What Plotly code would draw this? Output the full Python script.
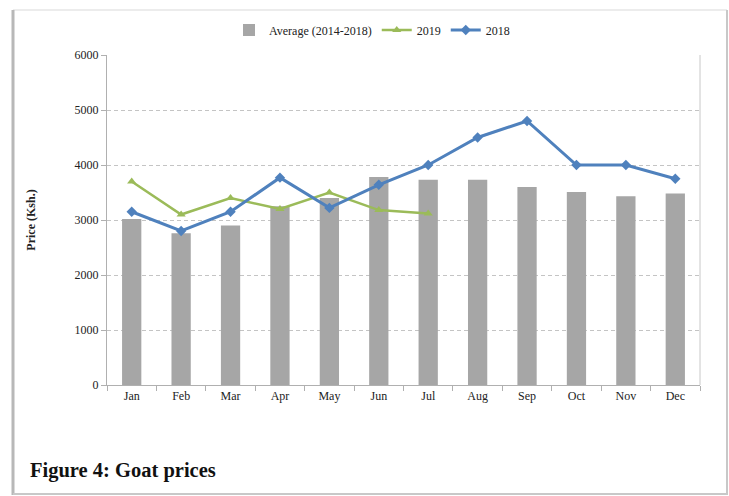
import plotly.graph_objects as go

months = ["Jan", "Feb", "Mar", "Apr", "May", "Jun", "Jul", "Aug", "Sep", "Oct", "Nov", "Dec"]
avg_2014_2018 = [3020, 2760, 2900, 3250, 3400, 3780, 3730, 3730, 3600, 3510, 3430, 3480]
prices_2019 = [3700, 3100, 3400, 3200, 3500, 3180, 3120]
prices_2018 = [3150, 2800, 3150, 3770, 3220, 3640, 4000, 4500, 4800, 4000, 4000, 3750]

W, H = 729, 496
L, R, T, B = 107, 29, 55, 111
pw, ph = W - L - R, H - T - B

def px(x):
    return (x - L) / pw

def py(y):
    return (H - B - y) / ph

serif = "Liberation Serif, Times New Roman, serif"

fig = go.Figure()
fig.add_trace(go.Bar(
    x=months, y=avg_2014_2018, name="Average (2014-2018)",
    marker=dict(color="#a6a6a6", line=dict(width=0)), width=0.39,
))
fig.add_trace(go.Scatter(
    x=months[:len(prices_2019)], y=prices_2019, name="2019", mode="lines+markers",
    line=dict(color="#9bbb59", width=2.5),
    marker=dict(symbol="triangle-up", size=8, color="#9bbb59"),
))
fig.add_trace(go.Scatter(
    x=months, y=prices_2018, name="2018", mode="lines+markers",
    line=dict(color="#4f81bd", width=3),
    marker=dict(symbol="diamond", size=8, color="#4f81bd"),
))

fig.update_layout(
    width=W, height=H,
    margin=dict(l=L, r=R, t=T, b=B, pad=0),
    paper_bgcolor="white", plot_bgcolor="white",
    font=dict(family=serif, size=12, color="#222"),
    showlegend=True,
    legend=dict(orientation="h", x=px(372), xanchor="center", y=py(30), yanchor="middle",
                font=dict(family=serif, size=12, color="#222"), itemwidth=30,
                bgcolor="rgba(0,0,0,0)"),
    bargap=0.6,
    xaxis=dict(
        type="category", range=[-0.5, 11.5],
        showline=True, linecolor="#b0b0b0", linewidth=1,
        ticks="outside", tickson="boundaries", ticklen=5, tickcolor="#b0b0b0",
        showgrid=False, tickfont=dict(family=serif, size=12, color="#222"),
    ),
    yaxis=dict(
        range=[0, 6000], dtick=1000, tick0=0,
        showline=True, linecolor="#b0b0b0", linewidth=1,
        ticks="outside", ticklen=5, tickcolor="#b0b0b0",
        showgrid=True, gridcolor="#c4c4c4", griddash="4px,3px", gridwidth=1,
        zeroline=False,
        tickfont=dict(family=serif, size=12, color="#222"),
        title=dict(text="<b>Price (Ksh.)</b>", font=dict(family=serif, size=12, color="#222"), standoff=36),
    ),
    shapes=[
        dict(type="line", xref="paper", yref="paper", x0=1, x1=1, y0=0, y1=1,
             line=dict(color="#c8c8c8", width=1)),
        dict(type="rect", xref="paper", yref="paper",
             x0=px(13), x1=px(727), y0=py(494), y1=py(10),
             line=dict(color="#d9d9d9", width=1), layer="below"),
        dict(type="line", xref="paper", yref="paper", x0=px(13), x1=px(13), y0=py(495), y1=py(10),
             line=dict(color="#b8b8b8", width=3)),
        dict(type="line", xref="paper", yref="paper", x0=px(13), x1=px(728), y0=py(494), y1=py(494),
             line=dict(color="#c8c8c8", width=2)),
        dict(type="line", xref="paper", yref="paper", x0=px(727), x1=px(727), y0=py(494), y1=py(10),
             line=dict(color="#c8c8c8", width=2)),
    ],
    annotations=[
        dict(text="<b>Figure 4: Goat prices</b>", xref="paper", yref="paper",
             x=px(28), y=py(470), xanchor="left", yanchor="middle", showarrow=False,
             font=dict(family=serif, size=20.5, color="#111")),
    ],
)

fig.write_html("out.html")
